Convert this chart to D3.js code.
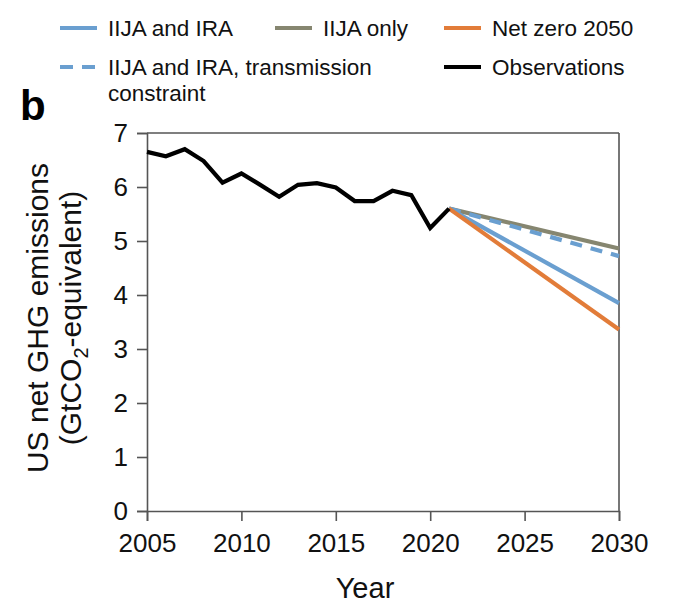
<!DOCTYPE html>
<html>
<head>
<meta charset="utf-8">
<script src="https://cdn.jsdelivr.net/npm/d3@7"></script>
<style>
  html, body { margin: 0; padding: 0; background: #fff; }
  svg { display: block; font-family: "Liberation Sans", Arial, sans-serif; }
</style>
</head>
<body>
<svg id="chart" width="680" height="615"></svg>
<script>
// ---- Data ----
const obsYears = [2005, 2006, 2007, 2008, 2009, 2010, 2011, 2012, 2013, 2014, 2015, 2016, 2017, 2018, 2019, 2020, 2021];
const obsValues = [6.65, 6.57, 6.70, 6.48, 6.08, 6.25, 6.04, 5.82, 6.04, 6.07, 5.99, 5.74, 5.74, 5.93, 5.85, 5.24, 5.60];
const projYears = [2021, 2030];
const iijaIra = [5.60, 3.85];
const iijaOnly = [5.60, 4.86];
const netZero = [5.60, 3.36];
const iijaIraTx = [5.60, 4.72];
const xTicks = [2005, 2010, 2015, 2020, 2025, 2030];
const yTicks = [0, 1, 2, 3, 4, 5, 6, 7];

const colors = { blue: "#6a9fd0", olive: "#868670", orange: "#e27c39", black: "#000000" };

const series = [
  { name: "IIJA only", years: projYears, values: iijaOnly, color: colors.olive, dash: null },
  { name: "IIJA and IRA, transmission constraint", years: projYears, values: iijaIraTx, color: colors.blue, dash: "12,9" },
  { name: "IIJA and IRA", years: projYears, values: iijaIra, color: colors.blue, dash: null },
  { name: "Net zero 2050", years: projYears, values: netZero, color: colors.orange, dash: null },
  { name: "Observations", years: obsYears, values: obsValues, color: colors.black, dash: null }
];

const svg = d3.select("#chart");
const x = d3.scaleLinear().domain([2005, 2030]).range([147, 619]);
const y = d3.scaleLinear().domain([0, 7]).range([511, 133]);
const axisColor = "#555";

// Frame (top and right)
svg.append("line").attr("x1", x(2005)).attr("x2", x(2030)).attr("y1", y(7)).attr("y2", y(7))
  .attr("stroke", axisColor).attr("stroke-width", 1.6);
svg.append("line").attr("x1", x(2030)).attr("x2", x(2030)).attr("y1", y(7)).attr("y2", y(0))
  .attr("stroke", axisColor).attr("stroke-width", 1.6);

// Axes
const xAxis = svg.append("g").attr("transform", `translate(0,${y(0)})`)
  .call(d3.axisBottom(x).tickValues(xTicks).tickFormat(d3.format("d")).tickSize(10).tickPadding(8));
const yAxis = svg.append("g").attr("transform", `translate(${x(2005)},0)`)
  .call(d3.axisLeft(y).tickValues(yTicks).tickFormat(d3.format("d")).tickSize(10).tickPadding(9));
[xAxis, yAxis].forEach(g => {
  g.select(".domain").attr("stroke", axisColor).attr("stroke-width", 1.6);
  g.selectAll(".tick line").attr("stroke", axisColor).attr("stroke-width", 1.6);
  g.selectAll(".tick text").attr("fill", "#111").style("font-size", "26px")
    .style("font-family", "'Liberation Sans', Arial, sans-serif");
});
xAxis.selectAll(".tick text").attr("dy", "0.9em");

// Lines
const line = d3.line().x(d => x(d[0])).y(d => y(d[1]));
series.forEach(s => {
  svg.append("path")
    .datum(s.years.map((yr, i) => [yr, s.values[i]]))
    .attr("d", line)
    .attr("fill", "none")
    .attr("stroke", s.color)
    .attr("stroke-width", 4.2)
    .attr("stroke-linejoin", "miter")
    .attr("stroke-dasharray", s.dash);
});

// Axis titles
svg.append("text").attr("x", 365).attr("y", 598).attr("text-anchor", "middle")
  .style("font-size", "29px").attr("fill", "#111").text("Year");
const yt = svg.append("text").attr("transform", "translate(48,318) rotate(-90)")
  .attr("text-anchor", "middle").style("font-size", "30px").attr("fill", "#111");
yt.append("tspan").attr("x", 0).attr("dy", 0).text("US net GHG emissions");
const t2 = yt.append("tspan").attr("x", 0).attr("dy", 33);
t2.text("(GtCO");
yt.append("tspan").attr("dy", 7).style("font-size", "20px").text("2");
yt.append("tspan").attr("dy", -7).text("-equivalent)");

// Panel label
svg.append("text").attr("x", 20).attr("y", 120).style("font-size", "42px")
  .style("font-weight", "bold").attr("fill", "#000").text("b");

// Legend
const legendItems = [
  { label: ["IIJA and IRA"], color: colors.blue, dash: null, lx: 60, ty: 36 },
  { label: ["IIJA only"], color: colors.olive, dash: null, lx: 275, ty: 36 },
  { label: ["Net zero 2050"], color: colors.orange, dash: null, lx: 444, ty: 36 },
  { label: ["IIJA and IRA, transmission", "constraint"], color: colors.blue, dash: "13,9", lx: 60, ty: 75 },
  { label: ["Observations"], color: colors.black, dash: null, lx: 444, ty: 75 }
];
legendItems.forEach(it => {
  svg.append("line").attr("x1", it.lx).attr("x2", it.lx + 37)
    .attr("y1", it.ty - 8).attr("y2", it.ty - 8)
    .attr("stroke", it.color).attr("stroke-width", 4.2).attr("stroke-dasharray", it.dash);
  const t = svg.append("text").attr("x", it.lx + 48).attr("y", it.ty)
    .style("font-size", "22.5px").attr("fill", "#111");
  it.label.forEach((l, i) => t.append("tspan").attr("x", it.lx + 48).attr("dy", i === 0 ? 0 : 26).text(l));
});
</script>
</body>
</html>
